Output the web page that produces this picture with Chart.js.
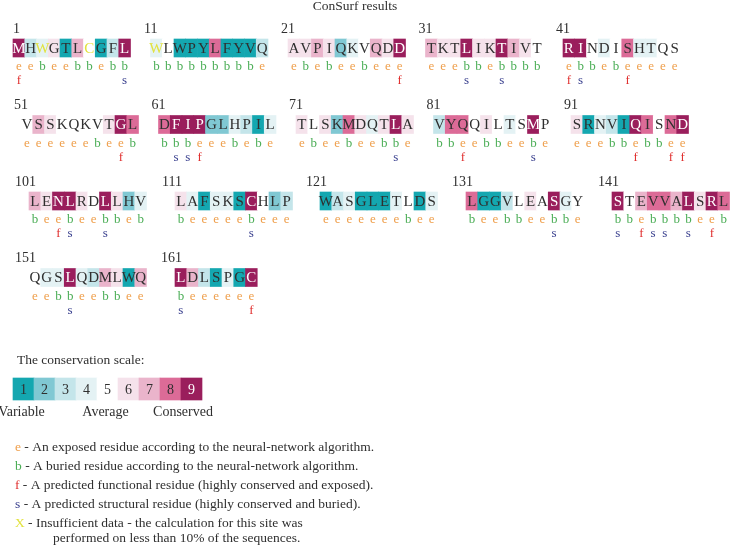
<!DOCTYPE html>
<html>
<head>
<meta charset="utf-8">
<script src="https://cdn.jsdelivr.net/npm/chart.js@4.4.0/dist/chart.umd.min.js"></script>
<style>
  html, body { margin: 0; padding: 0; background: #fff; }
  canvas { display: block; }
</style>
</head>
<body>
<canvas id="consurf" width="730" height="545"></canvas>
<script>
// residues, 10 per block
const sequence =
    "MHWGTLCGFL" + "WLWPYLFYVQ" + "AVPIQKVQDD" + "TKTLIKTIVT" + "RINDISHTQS" +
    "VSSKQKVTGL" + "DFIPGLHPIL" + "TLSKMDQTLA" + "VYQQILTSMP" + "SRNVIQISND" +
    "LENLRDLLHV" + "LAFSKSCHLP" + "WASGLETLDS" + "LGGVLEASGY" + "STEVVALSRL" +
    "QGSLQDMLWQ" + "LDLSPGC"

// conservation grade 1..9 per residue
const grades = [
    9, 3, 4, 6, 1, 7, 5, 1, 3, 9,
    4, 5, 1, 1, 1, 8, 1, 1, 1, 3,
    6, 6, 7, 6, 2, 4, 5, 7, 6, 9,
    7, 6, 6, 9, 6, 6, 9, 7, 6, 5,
    9, 9, 5, 4, 5, 8, 4, 4, 5, 5,
    5, 7, 6, 5, 5, 5, 5, 6, 9, 8,
    8, 9, 9, 9, 2, 2, 4, 3, 1, 4,
    6, 5, 6, 2, 8, 6, 4, 6, 9, 6,
    3, 8, 8, 5, 6, 5, 4, 5, 9, 5,
    6, 1, 4, 3, 1, 9, 8, 5, 8, 9,
    7, 6, 9, 9, 6, 5, 9, 6, 2, 4,
    6, 4, 1, 4, 4, 1, 9, 5, 2, 3,
    1, 3, 4, 1, 1, 1, 4, 5, 1, 4,
    8, 1, 1, 3, 5, 6, 5, 9, 4, 5,
    9, 5, 7, 8, 8, 7, 9, 6, 9, 8,
    5, 4, 4, 9, 4, 3, 7, 6, 1, 7,
    9, 7, 3, 1, 4, 1, 9
]

// e = exposed, b = buried
const burial =
    "eebeebbebb" + "bbbbbbbbbe" + "ebebeebeee" + "eeebbebbbb" + "ebbebeeeee" +
    "eeeeeebeeb" + "bbbeeebebe" + "ebeebeebbe" + "bbeebbeebe" + "eeebbebbee" +
    "beebeebbeb" + "beeeeebeee" + "eeeeeeebee" + "beebbeebbe" + "bbebbbbeeb" +
    "eebbeebbee" + "beeeeee"

// residue numbers
const functional = [1, 30, 41, 46, 59, 64, 83, 96, 99, 100, 103, 143, 149, 167]
const structural = [10, 34, 37, 42, 62, 63, 79, 89, 104, 107, 117, 138, 141, 144, 145, 147, 154, 161]
const insufficient = [3, 7, 11]

// scale
const scaleGrades = [1, 2, 3, 4, 5, 6, 7, 8, 9]
const scaleLabels = ["Variable", "Average", "Conserved"]

const legendItems = [
    ["e", " - An exposed residue according to the neural-network algorithm."],
    ["b", " - A buried residue according to the neural-network algorithm."],
    ["f", " - A predicted functional residue (highly conserved and exposed)."],
    ["s", " - A predicted structural residue (highly conserved and buried)."],
    ["X", " - Insufficient data - the calculation for this site was"]
]
const legendExtra = "performed on less than 10% of the sequences."

// colours
const gradeColors = {
    1: "#14a7b0", 2: "#80c8d3", 3: "#c4e5ea", 4: "#e4f2f4", 5: "#ffffff",
    6: "#f5e2eb", 7: "#eab4cb", 8: "#dc6b97", 9: "#9a1e5c"
}
const keyColors = { e: "#ef9f4c", b: "#4aad55", f: "#e0302f", s: "#3b418f", X: "#e2e23e" }
const textColor = "#2f2f2f"
const serif = "'Liberation Serif', 'DejaVu Serif', serif"

// layout
const cellW = 11.75
const cellH = 18
const rows = [
    { starts: [13, 150.5, 288, 425.5, 563], mid: 48 },
    { starts: [21, 158.5, 296, 433.5, 571], mid: 124.5 },
    { starts: [29, 175, 320, 466, 612], mid: 201 },
    { starts: [29, 175], mid: 277.5 }
]

const residuePoints = grades.map((g, i) => {
    const row = rows[Math.floor(i / 50)]
    const start = row.starts[Math.floor((i % 50) / 10)]
    return { x: start + (i % 10 + 0.5) * cellW, y: [row.mid - cellH / 2, row.mid + cellH / 2] }
})
const scalePoints = scaleGrades.map((g, k) => ({ x: 13 + (k + 0.5) * 21, y: [378, 400] }))

const textPlugin = {
    id: "consurfText",
    afterDatasetsDraw(chart) {
        const ctx = chart.ctx
        ctx.save()
        ctx.textBaseline = "middle"

        // title
        ctx.textAlign = "center"
        ctx.fillStyle = textColor
        ctx.font = "13.5px " + serif
        ctx.fillText("ConSurf results", 355, 6)

        // residues
        const bars = chart.getDatasetMeta(0).data
        bars.forEach((bar, i) => {
            const top = Math.min(bar.y, bar.base)
            const bottom = Math.max(bar.y, bar.base)
            const num = i + 1

            ctx.textAlign = "center"
            ctx.font = "15px " + serif
            if (insufficient.includes(num)) ctx.fillStyle = keyColors.X
            else ctx.fillStyle = grades[i] === 9 ? "#ffffff" : textColor
            ctx.fillText(sequence[i], bar.x, (top + bottom) / 2 + 1)

            ctx.font = "13px " + serif
            ctx.fillStyle = keyColors[burial[i]]
            ctx.fillText(burial[i], bar.x, bottom + 10)

            if (functional.includes(num)) {
                ctx.fillStyle = keyColors.f
                ctx.fillText("f", bar.x, bottom + 24)
            } else if (structural.includes(num)) {
                ctx.fillStyle = keyColors.s
                ctx.fillText("s", bar.x, bottom + 24)
            }

            // block number
            if (i % 10 === 0) {
                ctx.textAlign = "right"
                ctx.font = "14px " + serif
                ctx.fillStyle = textColor
                ctx.fillText(String(num), bar.x - cellW / 2 + 7, top - 10)
            }
        })

        // conservation scale
        const scaleBars = chart.getDatasetMeta(1).data
        ctx.textAlign = "left"
        ctx.font = "13.5px " + serif
        ctx.fillStyle = textColor
        ctx.fillText("The conservation scale:", 17, 360)
        ctx.textAlign = "center"
        ctx.font = "14px " + serif
        scaleBars.forEach((bar, k) => {
            ctx.fillStyle = scaleGrades[k] === 9 ? "#ffffff" : textColor
            ctx.fillText(String(scaleGrades[k]), bar.x, (bar.y + bar.base) / 2 + 1)
        })
        ctx.fillStyle = textColor
        ctx.fillText(scaleLabels[0], scaleBars[0].x - 2, 412)
        ctx.fillText(scaleLabels[1], scaleBars[4].x - 2, 412)
        ctx.fillText(scaleLabels[2], (scaleBars[7].x + scaleBars[8].x) / 2 + 2, 412)

        // key
        ctx.textAlign = "left"
        ctx.font = "13.5px " + serif
        legendItems.forEach(([key, text], n) => {
            const y = 447 + n * 19
            ctx.fillStyle = keyColors[key]
            ctx.fillText(key, 15, y)
            ctx.fillStyle = textColor
            ctx.fillText(text, 15 + ctx.measureText(key).width, y)
        })
        ctx.fillText(legendExtra, 53, 538)

        ctx.restore()
    }
}

new Chart(document.getElementById("consurf").getContext("2d"), {
    type: "bar",
    data: {
        datasets: [
            {
                label: "residues",
                data: residuePoints,
                backgroundColor: grades.map(g => gradeColors[g]),
                barThickness: cellW,
                grouped: false,
                borderWidth: 0
            },
            {
                label: "scale",
                data: scalePoints,
                backgroundColor: scaleGrades.map(g => gradeColors[g]),
                barThickness: 21,
                grouped: false,
                borderWidth: 0
            }
        ]
    },
    options: {
        responsive: false,
        animation: false,
        devicePixelRatio: 1,
        layout: { padding: 0 },
        scales: {
            x: { type: "linear", min: 0, max: 730, offset: false, display: false },
            y: { type: "linear", min: 0, max: 545, reverse: true, display: false }
        },
        plugins: {
            legend: { display: false },
            tooltip: { enabled: false }
        }
    },
    plugins: [textPlugin]
})
</script>
</body>
</html>
